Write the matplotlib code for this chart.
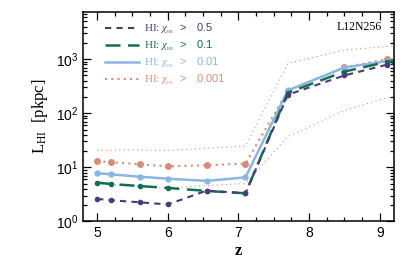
import matplotlib
matplotlib.use("Agg")
import matplotlib.pyplot as plt
from matplotlib.ticker import MultipleLocator, LogLocator, NullFormatter

plt.rcParams["mathtext.fontset"] = "custom"
plt.rcParams["mathtext.rm"] = "Liberation Serif"
plt.rcParams["mathtext.it"] = "Liberation Serif:italic"
plt.rcParams["mathtext.sf"] = "Liberation Sans"

# redshifts of the snapshots
z = [5.0, 5.2, 5.6, 6.0, 6.55, 7.1, 7.7, 8.5, 9.1, 9.35]

# characteristic HI size for each neutral fraction threshold
L_05 = [2.6, 2.45, 2.25, 2.05, 3.7, 3.3, 220, 500, 790, 860]
L_01 = [5.2, 4.9, 4.5, 4.15, 3.65, 3.3, 240, 590, 890, 960]
L_001 = [7.8, 7.4, 6.7, 6.15, 5.6, 6.5, 265, 700, 920, 990]
L_0001 = [12.9, 12.4, 11.4, 10.4, 10.9, 11.7, 262, 710, 1000, 1060]

# scatter band of the 0.001 threshold
L_0001_hi = [20.5, 20.8, 21.0, 20.5, 22.5, 24.5, 840, 1480, 1720, 1760]
L_0001_lo = [5.0, 4.8, 4.4, 4.1, 4.6, 5.0, 37, 112, 195, 215]

labels = ["0.5", "0.1", "0.01", "0.001"]
colors = ["#4b3a7c", "#11704f", "#8ab6e2", "#d98b78"]

fig = plt.figure(figsize=(4.15, 2.77), dpi=100)
ax = fig.add_axes([0.2, 0.201, 0.749, 0.756])

ax.plot(z, L_0001_hi, color=colors[3], lw=0.8, ls=(0, (1, 3)))
ax.plot(z, L_0001_lo, color=colors[3], lw=0.8, ls=(0, (1, 3)))

ax.plot(z, L_0001, color=colors[3], lw=1.5, ls=(0, (1, 2)),
        marker="o", ms=4, label=labels[3])
ax.plot(z, L_001, color=colors[2], lw=1.8, ls="-",
        marker="o", ms=3.5, label=labels[2])
ax.plot(z, L_01, color=colors[1], lw=1.8, ls=(0, (6, 3)),
        marker="o", ms=3, label=labels[1])
ax.plot(z, L_05, color=colors[0], lw=1.5, ls=(0, (3, 2.5)),
        marker="o", ms=3, label=labels[0])

ax.set_yscale("log")
ax.set_xlim(4.8, 9.2)
ax.set_ylim(1, 7500)

ax.xaxis.set_major_locator(MultipleLocator(1))
ax.xaxis.set_minor_locator(MultipleLocator(0.25))
ax.yaxis.set_major_locator(LogLocator(base=10, numticks=10))
ax.yaxis.set_minor_locator(LogLocator(base=10, subs=range(2, 10), numticks=20))
ax.yaxis.set_minor_formatter(NullFormatter())
ax.tick_params(which="both", direction="in", top=True, right=True,
               width=0.9)
ax.tick_params(which="major", length=6, labelsize=10)
ax.tick_params(which="minor", length=3)
for lab in ax.get_xticklabels() + ax.get_yticklabels():
    lab.set_fontfamily("Liberation Sans")
for sp in ax.spines.values():
    sp.set_linewidth(1.1)

ax.set_xlabel("z", fontfamily="Liberation Serif", fontweight="bold",
              fontsize=12, labelpad=2)
ax.set_ylabel(r"L$_{\mathrm{HI}}$  [pkpc]", fontfamily="Liberation Serif",
              fontsize=12, labelpad=4)

ax.text(0.96, 0.93, "L12N256", transform=ax.transAxes, ha="right",
        va="center", fontfamily="Liberation Serif", fontsize=8.5)

handles, labs = ax.get_legend_handles_labels()
order = [3, 2, 1, 0]
leg = ax.legend([handles[i] for i in order],
                [r"HI: $\chi_{_{\mathrm{HI}}}$  $\mathsf{>\ \ \ " + labs[i] + "}$"
                 for i in order],
                loc="upper left", bbox_to_anchor=(0.04, 1.0), frameon=False,
                handlelength=3.0, handletextpad=0.5, labelspacing=0.22,
                prop={"family": "Liberation Serif", "size": 8})
for line, txt in zip(leg.get_lines(), leg.get_texts()):
    line.set_marker("")
    txt.set_color(line.get_color())

fig.savefig("out.png", dpi=100)
